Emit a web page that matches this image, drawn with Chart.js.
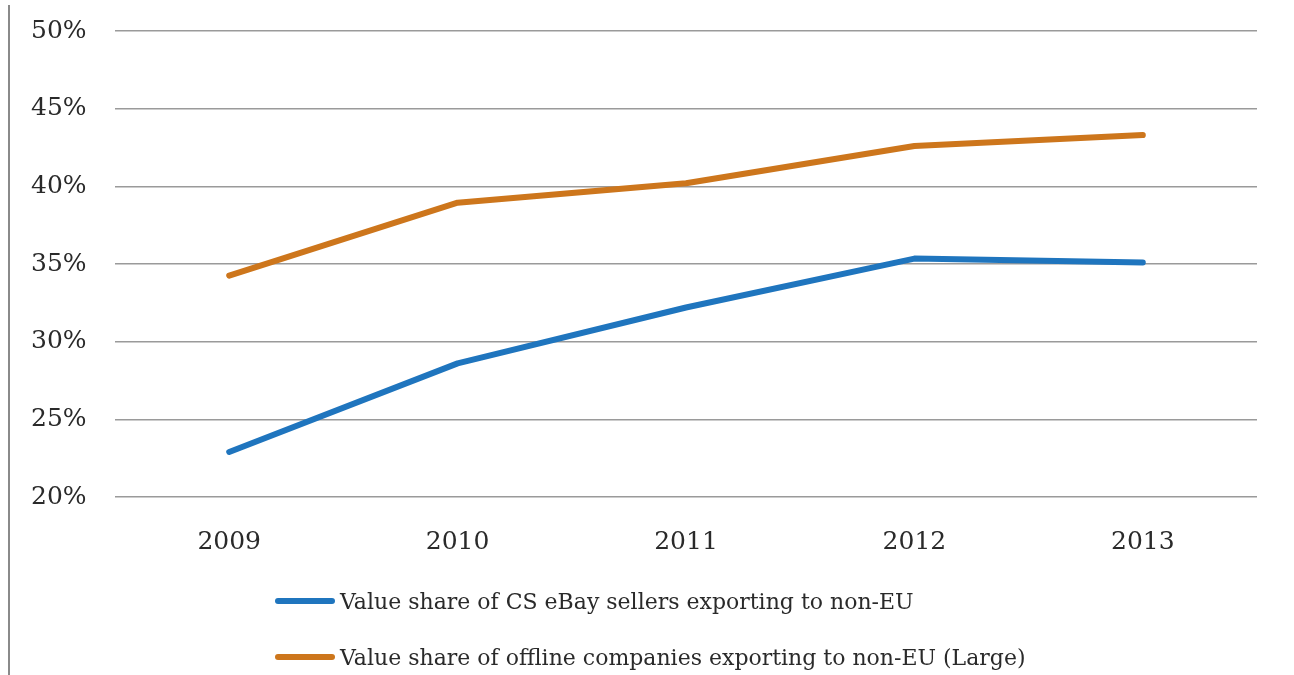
<!DOCTYPE html>
<html>
<head>
<meta charset="utf-8">
<script src="https://cdn.jsdelivr.net/npm/chart.js@4.4.1/dist/chart.umd.min.js"></script>
<style>
  html, body { margin: 0; padding: 0; background: #fff; }
  #wrap { position: relative; width: 1294px; height: 675px; overflow: hidden; }
  #edge { position: absolute; left: 8px; top: 5px; width: 2px; bottom: 0; background: #8a8a8a; }
  #legend { position: absolute; left: 275px; top: 573px; font-family: "DejaVu Serif", serif; font-size: 22px; color: #2a2a2a; }
  .item { display: flex; align-items: center; height: 56px; margin: 0; }
  .swatch { width: 60px; height: 6px; border-radius: 3px; margin-right: 5px; }
</style>
</head>
<body>
<div id="wrap">
  <canvas id="main-chart"></canvas>
  <div id="edge"></div>
  <div id="legend"></div>
</div>
<script>
const years = ['2009', '2010', '2011', '2012', '2013'];
const ebayShare = [22.9, 28.6, 32.2, 35.35, 35.1];
const offlineShare = [34.25, 38.95, 40.2, 42.6, 43.3];
const seriesNames = [
  'Value share of CS eBay sellers exporting to non-EU',
  'Value share of offline companies exporting to non-EU (Large)'
];
const seriesColors = ['#1f75be', '#cd761c'];

document.addEventListener("DOMContentLoaded", () => {
  const canvas1 = document.getElementById("main-chart");
  canvas1.setAttribute('width', '1294');
  canvas1.setAttribute('height', '675');

  const chart1 = new Chart(canvas1, {
    type: 'line',
    data: {
      labels: years,
      datasets: [{
        label: seriesNames[0],
        data: ebayShare,
        borderColor: seriesColors[0],
        borderWidth: 6,
        pointRadius: 0,
        tension: 0,
        borderCapStyle: 'round',
        borderJoinStyle: 'round',
        fill: false
      }, {
        label: seriesNames[1],
        data: offlineShare,
        borderColor: seriesColors[1],
        borderWidth: 6,
        pointRadius: 0,
        tension: 0,
        borderCapStyle: 'round',
        borderJoinStyle: 'round',
        fill: false
      }]
    },
    options: {
      responsive: false,
      animation: false,
      layout: { padding: { top: 31, right: 37, left: 31, bottom: 0 } },
      plugins: {
        legend: { display: false },
        tooltip: { enabled: false }
      },
      scales: {
        x: {
          offset: true,
          grid: { display: false, drawTicks: false },
          border: { display: false },
          ticks: {
            color: '#2a2a2a',
            padding: 30,
            font: { family: 'DejaVu Serif', size: 25 }
          },
          afterFit: scale => { scale.height = 178; }
        },
        y: {
          min: 20,
          max: 50,
          grid: { color: '#9a9a9a', lineWidth: 1.5, drawTicks: false },
          border: { display: false },
          ticks: {
            stepSize: 5,
            color: '#2a2a2a',
            padding: 0,
            crossAlign: 'far',
            font: { family: 'DejaVu Serif', size: 25 },
            callback: v => v + '%'
          },
          afterFit: scale => { scale.width = 84; }
        }
      }
    }
  });

  const legend = document.getElementById('legend');
  chart1.data.datasets.forEach(ds => {
    const row = document.createElement('div');
    row.className = 'item';
    const sw = document.createElement('span');
    sw.className = 'swatch';
    sw.style.background = ds.borderColor;
    const txt = document.createElement('span');
    txt.textContent = ds.label;
    row.appendChild(sw);
    row.appendChild(txt);
    legend.appendChild(row);
  });
});
</script>
</body>
</html>
